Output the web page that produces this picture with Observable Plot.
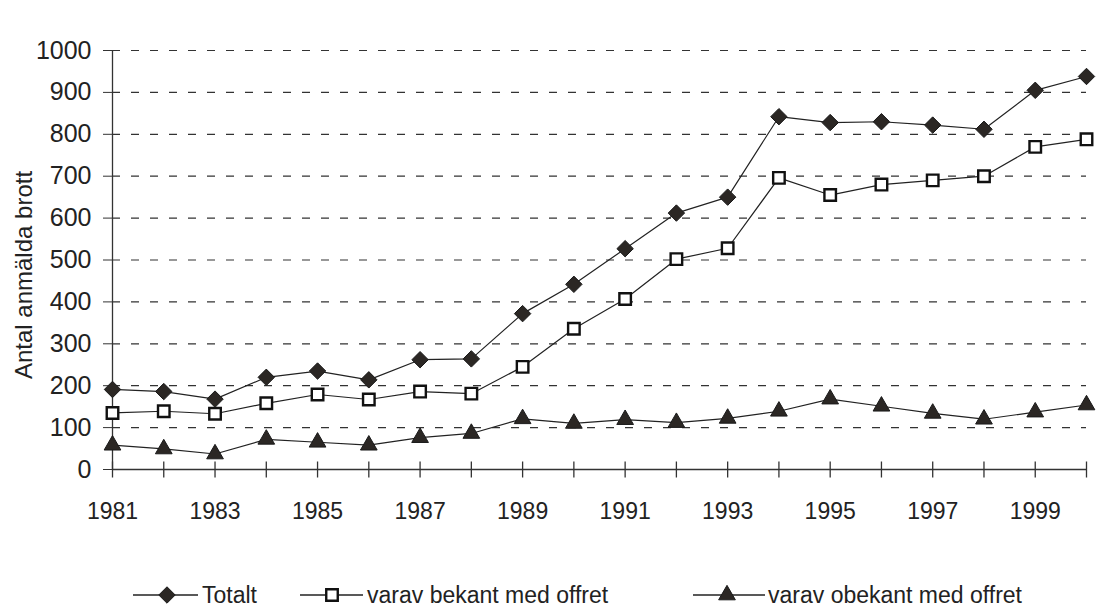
<!DOCTYPE html>
<html>
<head>
<meta charset="utf-8">
<script src="https://cdn.jsdelivr.net/npm/d3@7"></script>
<script src="https://cdn.jsdelivr.net/npm/@observablehq/plot@0.6"></script>
<style>
  body { margin: 0; background: #fff; }
  #wrap { position: relative; width: 1096px; height: 609px; overflow: hidden; background: #fff;
          font-family: "Liberation Sans", Arial, sans-serif; }
  #legend { display: block; }
</style>
</head>
<body>
<div id="wrap"></div>
<script>
// ---- data ----
const years   = [1981,1982,1983,1984,1985,1986,1987,1988,1989,1990,1991,1992,1993,1994,1995,1996,1997,1998,1999,2000];
const totalt  = [191,186,168,220,235,214,262,264,372,442,527,612,650,842,828,830,822,812,905,938];
const bekant  = [135,139,133,158,179,167,186,181,245,336,407,502,528,696,655,680,690,700,770,788];
const obekant = [58,49,37,72,65,58,76,86,121,110,119,112,122,139,168,151,134,120,137,154];
const seriesNames = ["Totalt", "varav bekant med offret", "varav obekant med offret"];
const yTicks = [0,100,200,300,400,500,600,700,800,900,1000];
const gridValues = [100,200,300,400,500,600,700,800,900,1000];
const xLabelYears = [1981,1983,1985,1987,1989,1991,1993,1995,1997,1999];
const yLabel = "Antal anmälda brott";

// ---- table built from arrays ----
const rows = [];
[totalt, bekant, obekant].forEach((vals, s) =>
  years.forEach((yr, i) => rows.push({series: seriesNames[s], year: yr, value: vals[i]})));
const bySeries = name => rows.filter(r => r.series === name);

const ink = "#222";
const font = '"Liberation Sans", Arial, sans-serif';
const vTick = { draw(ctx) { ctx.moveTo(0, -8); ctx.lineTo(0, 8); } };

const chart = Plot.plot({
  width: 1096,
  height: 550,
  marginLeft: 112,
  marginRight: 10,
  marginTop: 50,
  marginBottom: 81,
  x: { domain: [1981, 2000] },
  y: { domain: [0, 1000] },
  style: { fontFamily: font, background: "#fff", color: ink },
  marks: [
    Plot.ruleY(gridValues, { x1: 1981, x2: 2000, stroke: "#333", strokeWidth: 1.2, strokeDasharray: "8,11" }),
    Plot.ruleY([0], { x1: 1981, x2: 2000, stroke: "#333", strokeWidth: 1.3 }),
    Plot.ruleX([1981], { y1: 0, y2: 1000, stroke: "#333", strokeWidth: 1.3 }),
    Plot.dot(years, { x: d => d, y: () => 0, symbol: vTick, fill: "none", stroke: "#333", strokeWidth: 1.3 }),
    Plot.axisY({ ticks: yTicks, tickSize: 9, tickPadding: 12, fontSize: 25, label: null, stroke: "#333", tickFormat: d => String(d) }),
    Plot.axisX({ ticks: xLabelYears, tickSize: 0, tickPadding: 33, fontSize: 23, label: null, tickFormat: d => String(d) }),
    Plot.text([yLabel], { text: d => d, frameAnchor: "left", textAnchor: "middle", rotate: -90, dx: -88, dy: 15, fontSize: 24, fill: ink }),
    Plot.line(bySeries(seriesNames[0]), { x: "year", y: "value", stroke: ink, strokeWidth: 1.2 }),
    Plot.line(bySeries(seriesNames[1]), { x: "year", y: "value", stroke: ink, strokeWidth: 1.2 }),
    Plot.line(bySeries(seriesNames[2]), { x: "year", y: "value", stroke: ink, strokeWidth: 1.2 }),
    Plot.dot(bySeries(seriesNames[0]), { x: "year", y: "value", symbol: "diamond2", r: 7.4, fill: "#2b2724", stroke: "#1a1a1a", strokeWidth: 1 }),
    Plot.dot(bySeries(seriesNames[1]), { x: "year", y: "value", symbol: "square", r: 6.5, fill: "#fff", stroke: "#111", strokeWidth: 2.4 }),
    Plot.dot(bySeries(seriesNames[2]), { x: "year", y: "value", symbol: "triangle", r: 6.2, fill: "#2b2724", stroke: "#1a1a1a", strokeWidth: 1 })
  ]
});
document.getElementById("wrap").appendChild(chart);

// ---- legend below the chart ----
const legendItems = [
  { name: seriesNames[0], line: [133, 198], mark: 167, symbol: d3.symbolDiamond2, r: 7.4, fill: "#2b2724", stroke: "#1a1a1a", sw: 1, text: 202 },
  { name: seriesNames[1], line: [300, 363], mark: 332, symbol: d3.symbolSquare,   r: 6.5, fill: "#fff",    stroke: "#111",    sw: 2.4, text: 367 },
  { name: seriesNames[2], line: [693, 765], mark: 727, symbol: d3.symbolTriangle, r: 6.2, fill: "#2b2724", stroke: "#1a1a1a", sw: 1, text: 768 }
];
const leg = d3.select("#wrap").append("svg")
  .attr("id", "legend").attr("width", 1096).attr("height", 59)
  .style("font-family", font);
const ly = 45;
legendItems.forEach(it => {
  leg.append("line").attr("x1", it.line[0]).attr("x2", it.line[1]).attr("y1", ly).attr("y2", ly)
    .attr("stroke", ink).attr("stroke-width", 1.3);
  leg.append("path").attr("d", d3.symbol(it.symbol, Math.PI * it.r * it.r)())
    .attr("transform", `translate(${it.mark},${ly})`)
    .attr("fill", it.fill).attr("stroke", it.stroke).attr("stroke-width", it.sw);
  leg.append("text").attr("x", it.text).attr("y", 53).attr("font-size", 23).attr("fill", ink).text(it.name);
});
</script>
</body>
</html>
